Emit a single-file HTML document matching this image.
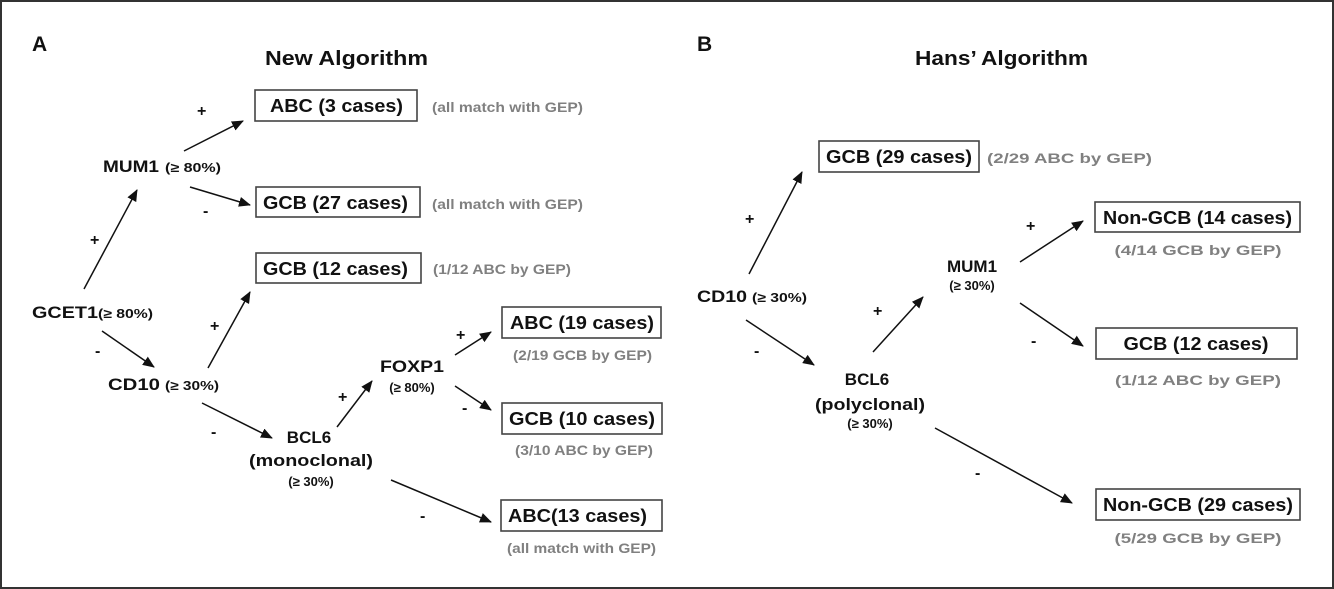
<!DOCTYPE html>
<html><head><meta charset="utf-8"><style>
html,body{margin:0;padding:0;background:#fff}
svg{display:block}
text{font-family:"Liberation Sans",Arial,sans-serif;font-weight:bold}
.t{fill:#111}
.n{fill:#808080;font-size:14px}
.b{fill:#fff;stroke:#444;stroke-width:1.6}
.l{stroke:#111;stroke-width:1.5;marker-end:url(#ah)}
.s{font-size:13px}
</style></head><body>
<svg width="1334" height="589" viewBox="0 0 1334 589" xmlns="http://www.w3.org/2000/svg">
<defs><marker id="ah" viewBox="0 0 12 10" refX="11" refY="5" markerWidth="12" markerHeight="10" markerUnits="userSpaceOnUse" orient="auto"><path d="M0,0 L12,5 L0,10 z" fill="#111"/></marker></defs>
<rect x="1" y="1" width="1332" height="587" fill="#fff" stroke="#333" stroke-width="2"/>

<!-- Panel A -->
<text x="32" y="51" font-size="21" class="t">A</text>
<text x="265" y="65" font-size="20" class="t" textLength="163" lengthAdjust="spacingAndGlyphs">New Algorithm</text>

<rect class="b" x="255" y="90" width="162" height="31"/>
<text x="270" y="112" font-size="18" class="t" textLength="133" lengthAdjust="spacingAndGlyphs">ABC (3 cases)</text>
<text x="432" y="112" class="n" textLength="151" lengthAdjust="spacingAndGlyphs">(all match with GEP)</text>

<text x="197" y="116" font-size="16" class="t">+</text>
<line class="l" x1="184" y1="151" x2="243" y2="121"/>
<text x="103" y="172" font-size="17" class="t" textLength="56" lengthAdjust="spacingAndGlyphs">MUM1</text>
<text x="165" y="172" class="t s" textLength="56" lengthAdjust="spacingAndGlyphs">(≥ 80%)</text>
<line class="l" x1="190" y1="187" x2="250" y2="205"/>
<text x="203" y="216" font-size="16" class="t">-</text>

<rect class="b" x="256" y="187" width="164" height="30"/>
<text x="263" y="209" font-size="18" class="t" textLength="145" lengthAdjust="spacingAndGlyphs">GCB (27 cases)</text>
<text x="432" y="209" class="n" textLength="151" lengthAdjust="spacingAndGlyphs">(all match with GEP)</text>

<text x="90" y="245" font-size="16" class="t">+</text>
<line class="l" x1="84" y1="289" x2="137" y2="190"/>

<rect class="b" x="256" y="253" width="165" height="30"/>
<text x="263" y="275" font-size="18" class="t" textLength="145" lengthAdjust="spacingAndGlyphs">GCB (12 cases)</text>
<text x="433" y="274" class="n" textLength="138" lengthAdjust="spacingAndGlyphs">(1/12 ABC by GEP)</text>

<text x="32" y="318" font-size="17" class="t" textLength="66" lengthAdjust="spacingAndGlyphs">GCET1</text>
<text x="98" y="318" class="t s" textLength="55" lengthAdjust="spacingAndGlyphs">(≥ 80%)</text>
<text x="95" y="356" font-size="16" class="t">-</text>
<line class="l" x1="102" y1="331" x2="154" y2="367"/>
<text x="210" y="331" font-size="16" class="t">+</text>
<line class="l" x1="208" y1="368" x2="250" y2="292"/>
<text x="108" y="390" font-size="17" class="t" textLength="52" lengthAdjust="spacingAndGlyphs">CD10</text>
<text x="165" y="390" class="t s" textLength="54" lengthAdjust="spacingAndGlyphs">(≥ 30%)</text>
<line class="l" x1="202" y1="403" x2="272" y2="438"/>
<text x="211" y="437" font-size="16" class="t">-</text>

<text x="309" y="443" font-size="17" class="t" text-anchor="middle">BCL6</text>
<text x="311" y="466" font-size="17" class="t" text-anchor="middle" textLength="124" lengthAdjust="spacingAndGlyphs">(monoclonal)</text>
<text x="311" y="486" class="t s" text-anchor="middle">(≥ 30%)</text>

<text x="338" y="402" font-size="16" class="t">+</text>
<line class="l" x1="337" y1="427" x2="372" y2="381"/>
<text x="412" y="372" font-size="17" class="t" text-anchor="middle" textLength="64" lengthAdjust="spacingAndGlyphs">FOXP1</text>
<text x="412" y="392" class="t s" text-anchor="middle">(≥ 80%)</text>

<text x="456" y="340" font-size="16" class="t">+</text>
<line class="l" x1="455" y1="355" x2="491" y2="332"/>
<rect class="b" x="502" y="307" width="159" height="31"/>
<text x="510" y="329" font-size="18" class="t" textLength="144" lengthAdjust="spacingAndGlyphs">ABC (19 cases)</text>
<text x="513" y="360" class="n" textLength="139" lengthAdjust="spacingAndGlyphs">(2/19 GCB by GEP)</text>

<text x="462" y="413" font-size="16" class="t">-</text>
<line class="l" x1="455" y1="386" x2="491" y2="410"/>
<rect class="b" x="502" y="403" width="160" height="31"/>
<text x="509" y="425" font-size="18" class="t" textLength="146" lengthAdjust="spacingAndGlyphs">GCB (10 cases)</text>
<text x="515" y="455" class="n" textLength="138" lengthAdjust="spacingAndGlyphs">(3/10 ABC by GEP)</text>

<line class="l" x1="391" y1="480" x2="491" y2="522"/>
<text x="420" y="521" font-size="16" class="t">-</text>
<rect class="b" x="501" y="500" width="161" height="31"/>
<text x="508" y="522" font-size="18" class="t" textLength="139" lengthAdjust="spacingAndGlyphs">ABC(13 cases)</text>
<text x="507" y="553" class="n" textLength="149" lengthAdjust="spacingAndGlyphs">(all match with GEP)</text>

<!-- Panel B -->
<text x="697" y="51" font-size="21" class="t">B</text>
<text x="915" y="65" font-size="20" class="t" textLength="173" lengthAdjust="spacingAndGlyphs">Hans’ Algorithm</text>

<rect class="b" x="819" y="141" width="160" height="31"/>
<text x="826" y="163" font-size="18" class="t" textLength="146" lengthAdjust="spacingAndGlyphs">GCB (29 cases)</text>
<text x="987" y="163" class="n" font-size="15" textLength="165" lengthAdjust="spacingAndGlyphs">(2/29 ABC by GEP)</text>

<line class="l" x1="749" y1="274" x2="802" y2="172"/>
<text x="745" y="224" font-size="16" class="t">+</text>
<text x="697" y="302" font-size="17" class="t" textLength="50" lengthAdjust="spacingAndGlyphs">CD10</text>
<text x="752" y="302" class="t s" textLength="55" lengthAdjust="spacingAndGlyphs">(≥ 30%)</text>
<line class="l" x1="746" y1="320" x2="814" y2="365"/>
<text x="754" y="356" font-size="16" class="t">-</text>

<text x="867" y="385" font-size="17" class="t" text-anchor="middle">BCL6</text>
<text x="870" y="410" font-size="17" class="t" text-anchor="middle" textLength="110" lengthAdjust="spacingAndGlyphs">(polyclonal)</text>
<text x="870" y="428" class="t s" text-anchor="middle">(≥ 30%)</text>

<text x="873" y="316" font-size="16" class="t">+</text>
<line class="l" x1="873" y1="352" x2="923" y2="297"/>
<text x="972" y="272" font-size="17" class="t" text-anchor="middle">MUM1</text>
<text x="972" y="290" class="t s" text-anchor="middle">(≥ 30%)</text>

<text x="1026" y="231" font-size="16" class="t">+</text>
<line class="l" x1="1020" y1="262" x2="1083" y2="221"/>
<rect class="b" x="1095" y="202" width="205" height="30"/>
<text x="1103" y="224" font-size="18" class="t" textLength="189" lengthAdjust="spacingAndGlyphs">Non-GCB (14 cases)</text>
<text x="1198" y="255" class="n" font-size="15" text-anchor="middle" textLength="167" lengthAdjust="spacingAndGlyphs">(4/14 GCB by GEP)</text>

<text x="1031" y="346" font-size="16" class="t">-</text>
<line class="l" x1="1020" y1="303" x2="1083" y2="346"/>
<rect class="b" x="1096" y="328" width="201" height="31"/>
<text x="1196" y="350" font-size="18" class="t" text-anchor="middle" textLength="145" lengthAdjust="spacingAndGlyphs">GCB (12 cases)</text>
<text x="1198" y="385" class="n" font-size="15" text-anchor="middle" textLength="166" lengthAdjust="spacingAndGlyphs">(1/12 ABC by GEP)</text>

<line class="l" x1="935" y1="428" x2="1072" y2="503"/>
<text x="975" y="478" font-size="16" class="t">-</text>
<rect class="b" x="1096" y="489" width="204" height="31"/>
<text x="1103" y="511" font-size="18" class="t" textLength="190" lengthAdjust="spacingAndGlyphs">Non-GCB (29 cases)</text>
<text x="1198" y="543" class="n" font-size="15" text-anchor="middle" textLength="167" lengthAdjust="spacingAndGlyphs">(5/29 GCB by GEP)</text>
</svg>
</body></html>
